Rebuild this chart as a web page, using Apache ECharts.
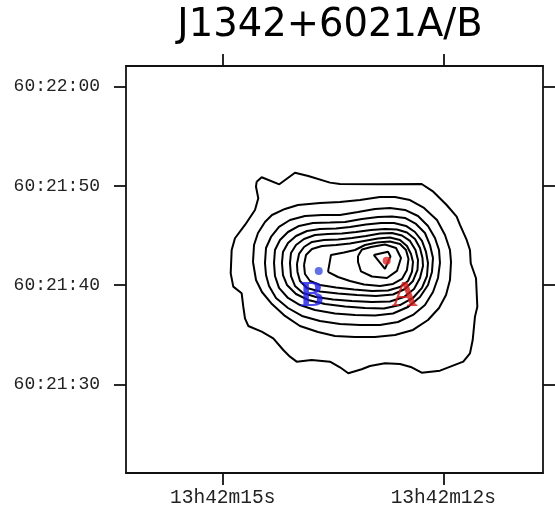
<!DOCTYPE html>
<html>
<head>
<meta charset="utf-8">
<script src="https://cdn.jsdelivr.net/npm/echarts@6/dist/echarts.min.js"></script>
<style>html,body{margin:0;padding:0;background:#fff;}#c{width:555px;height:508px;}</style>
</head>
<body>
<div id="c"></div>
<script>
// Title
var chartTitle = 'J1342+6021A/B';
// Axis ticks: RA in seconds of 13h42m, Dec in arcsec of 60:21
var raTickValues = [15, 12];
var raTickLabels = ['13h42m15s', '13h42m12s'];
var decTickValues = [30, 40, 50, 60];
var decTickLabels = ['60:21:30', '60:21:40', '60:21:50', '60:22:00'];
var raRange = [10.644, 16.315];
var decRange = [21.1, 62.07];

// Contours, [RA s, Dec arcsec], outermost first
var contour1 = [[14.538,50.43],[14.470,50.87],[14.230,50.16],[14.017,51.33],[13.836,51.00],[13.541,50.33],[13.405,50.19],[12.861,50.16],[12.294,50.19],[12.136,49.42],[11.954,48.08],[11.818,46.90],[11.773,46.07],[11.682,44.56],[11.637,43.55],[11.627,42.21],[11.555,40.70],[11.537,37.84],[11.569,36.84],[11.600,34.49],[11.637,33.15],[11.728,32.31],[12.045,31.40],[12.294,31.20],[12.430,31.74],[12.589,32.07],[12.793,32.14],[12.997,31.87],[13.110,31.54],[13.292,31.14],[13.405,31.74],[13.541,32.31],[13.790,32.48],[13.994,32.31],[14.085,32.81],[14.176,33.48],[14.312,34.66],[14.470,35.33],[14.652,35.90],[14.697,36.67],[14.720,37.84],[14.742,39.19],[14.856,39.86],[14.891,41.20],[14.878,43.55],[14.833,44.73],[14.697,46.07],[14.561,47.58],[14.516,48.76],[14.547,49.92]];
var contour2 = [[14.588,42.34],[14.574,44.05],[14.520,45.26],[14.425,46.37],[14.330,47.07],[14.153,47.68],[13.976,48.08],[13.677,48.28],[13.405,48.38],[13.133,48.58],[12.861,48.89],[12.657,48.89],[12.453,48.58],[12.262,47.78],[12.086,46.57],[11.977,45.06],[11.909,43.55],[11.895,42.34],[11.909,40.53],[11.963,39.02],[12.058,37.71],[12.208,36.50],[12.412,35.50],[12.657,34.99],[12.929,34.79],[13.201,34.79],[13.473,34.89],[13.704,35.30],[13.949,35.90],[14.153,36.91],[14.330,38.11],[14.466,39.32],[14.547,40.53]];
var contour3 = [[14.425,42.24],[14.411,43.75],[14.343,44.86],[14.234,45.87],[14.085,46.57],[13.881,46.97],[13.650,47.07],[13.405,47.07],[13.160,47.38],[12.929,47.68],[12.725,47.78],[12.521,47.58],[12.344,46.97],[12.208,45.97],[12.113,44.76],[12.058,43.55],[12.045,42.24],[12.072,40.73],[12.140,39.32],[12.249,38.01],[12.412,37.01],[12.616,36.30],[12.861,36.00],[13.133,36.00],[13.405,36.10],[13.677,36.40],[13.922,36.91],[14.112,37.71],[14.275,38.72],[14.370,39.93],[14.411,41.03]];
var contour4 = [[14.302,42.24],[14.289,43.55],[14.221,44.56],[14.112,45.36],[13.962,45.97],[13.772,46.27],[13.541,46.32],[13.337,46.37],[13.106,46.67],[12.888,46.87],[12.698,46.92],[12.521,46.77],[12.371,46.17],[12.249,45.26],[12.181,44.05],[12.140,42.75],[12.154,41.34],[12.208,40.03],[12.317,38.82],[12.480,37.81],[12.684,37.16],[12.929,36.96],[13.201,37.01],[13.473,37.16],[13.745,37.51],[13.949,38.01],[14.112,38.72],[14.234,39.73],[14.289,40.93]];
var contour5 = [[14.194,42.24],[14.180,43.35],[14.112,44.26],[14.003,44.96],[13.854,45.46],[13.677,45.67],[13.459,45.72],[13.269,45.87],[13.051,46.12],[12.847,46.27],[12.670,46.27],[12.507,45.97],[12.385,45.36],[12.290,44.46],[12.235,43.35],[12.208,42.24],[12.222,40.93],[12.290,39.73],[12.412,38.72],[12.589,38.01],[12.806,37.66],[13.065,37.71],[13.337,37.86],[13.609,38.11],[13.840,38.52],[14.003,39.12],[14.126,40.03],[14.180,41.03]];
var contour6 = [[14.085,42.24],[14.071,43.25],[14.003,44.05],[13.894,44.66],[13.745,45.06],[13.568,45.16],[13.378,45.21],[13.187,45.36],[12.983,45.56],[12.793,45.67],[12.630,45.61],[12.494,45.31],[12.385,44.66],[12.317,43.75],[12.283,42.75],[12.276,41.94],[12.317,40.73],[12.398,39.62],[12.534,38.82],[12.725,38.37],[12.970,38.32],[13.242,38.42],[13.500,38.57],[13.731,38.82],[13.908,39.22],[14.017,39.93],[14.071,40.93]];
var contour7 = [[13.990,42.14],[13.962,43.15],[13.894,43.85],[13.786,44.36],[13.622,44.56],[13.432,44.61],[13.242,44.76],[13.051,44.96],[12.861,45.21],[12.698,45.26],[12.562,45.01],[12.453,44.46],[12.378,43.55],[12.344,42.54],[12.351,41.54],[12.412,40.43],[12.521,39.62],[12.684,39.07],[12.915,38.92],[13.174,39.02],[13.432,39.17],[13.677,39.37],[13.854,39.73],[13.949,40.43],[13.983,41.34]];
var contour8 = [[13.894,42.04],[13.867,43.05],[13.786,43.65],[13.650,43.95],[13.459,44.05],[13.269,44.21],[13.078,44.46],[12.888,44.71],[12.725,44.81],[12.589,44.56],[12.494,43.95],[12.439,43.15],[12.412,42.34],[12.426,41.34],[12.480,40.43],[12.589,39.83],[12.752,39.47],[12.970,39.42],[13.214,39.57],[13.459,39.78],[13.677,40.03],[13.813,40.43],[13.881,41.13]];
var contour9 = [[13.568,41.34],[13.527,43.05],[13.350,43.30],[13.201,43.55],[13.065,44.05],[12.902,44.31],[12.725,44.41],[12.589,44.16],[12.507,43.55],[12.473,42.65],[12.494,41.54],[12.562,40.63],[12.684,40.13],[12.861,39.93],[13.078,40.08],[13.269,40.43],[13.432,40.83]];
var contour10 = [[13.160,42.95],[13.106,43.60],[12.983,43.85],[12.793,44.10],[12.643,43.75],[12.575,42.75],[12.630,41.44],[12.766,40.73],[12.970,40.88],[13.119,41.39],[13.160,42.34]];
var contour11 = [[12.946,43.05],[12.752,43.38],[12.718,42.90],[12.793,41.64]];

// Components
var componentNames = ['A', 'B'];
var componentPositions = [[12.770, 42.47], [13.694, 41.44]];
var componentColors = ['#d01818', '#1a1ae6'];
var componentDotColors = ['#e02424', '#3a4fe0'];

var contours = [contour1, contour2, contour3, contour4, contour5, contour6, contour7, contour8, contour9, contour10, contour11];

var chart = echarts.init(document.getElementById('c'), null, {renderer: 'canvas'});

var monoFont = 'Liberation Mono';
var frameLine = {show: true, onZero: false, lineStyle: {color: '#111', width: 1.8}};
var tickStyle = {lineStyle: {color: '#111', width: 1.8}};

var series = contours.map(function (c, i) {
  return {
    type: 'line',
    name: 'contour' + (i + 1),
    data: c.concat([c[0]]),
    showSymbol: false,
    symbol: 'none',
    smooth: false,
    lineStyle: {color: '#000', width: 2},
    silent: true,
    z: 2
  };
});

var labelOffsets = [[18, 36], [-7, 26]];
componentNames.forEach(function (n, i) {
  series.push({
    type: 'scatter',
    name: n,
    data: [componentPositions[i]],
    symbol: 'circle',
    symbolSize: 8,
    itemStyle: {color: componentDotColors[i]},
    label: {
      show: true,
      position: 'inside',
      offset: labelOffsets[i],
      formatter: n,
      fontFamily: 'Liberation Serif',
      fontWeight: 'bold',
      fontSize: 36,
      color: componentColors[i]
    },
    z: 5
  });
});

var option = {
  animation: false,
  backgroundColor: '#fff',
  title: {
    text: chartTitle,
    left: 330,
    top: 6,
    padding: 0,
    textAlign: 'center',
    textStyle: {fontFamily: 'DejaVu Sans', fontSize: 38.5, fontWeight: 'normal', color: '#000'}
  },
  grid: {left: 126, right: 12, top: 66, bottom: 35},
  xAxis: [
    {
      type: 'value', position: 'bottom', min: raRange[0], max: raRange[1], inverse: true,
      axisLine: frameLine,
      axisTick: Object.assign({show: true, inside: false, length: 12, customValues: raTickValues}, tickStyle),
      axisLabel: {
        show: true, customValues: raTickValues, margin: 15,
        fontFamily: monoFont, fontSize: 19.5, color: '#222',
        formatter: function (v) { return raTickLabels[raTickValues.indexOf(v)]; }
      },
      splitLine: {show: false}
    },
    {
      type: 'value', position: 'top', min: raRange[0], max: raRange[1], inverse: true,
      axisLine: frameLine,
      axisTick: Object.assign({show: true, inside: false, length: 12, customValues: raTickValues}, tickStyle),
      axisLabel: {show: false},
      splitLine: {show: false}
    }
  ],
  yAxis: [
    {
      type: 'value', position: 'left', min: decRange[0], max: decRange[1],
      axisLine: frameLine,
      axisTick: Object.assign({show: true, inside: false, length: 12, customValues: decTickValues}, tickStyle),
      axisLabel: {
        show: true, customValues: decTickValues, margin: 26,
        fontFamily: monoFont, fontSize: 18, color: '#222',
        formatter: function (v) { return decTickLabels[decTickValues.indexOf(v)]; }
      },
      splitLine: {show: false}
    },
    {
      type: 'value', position: 'right', min: decRange[0], max: decRange[1],
      axisLine: frameLine,
      axisTick: Object.assign({show: true, inside: false, length: 12, customValues: decTickValues}, tickStyle),
      axisLabel: {show: false},
      splitLine: {show: false}
    }
  ],
  series: series
};
chart.setOption(option);
</script>
</body>
</html>
